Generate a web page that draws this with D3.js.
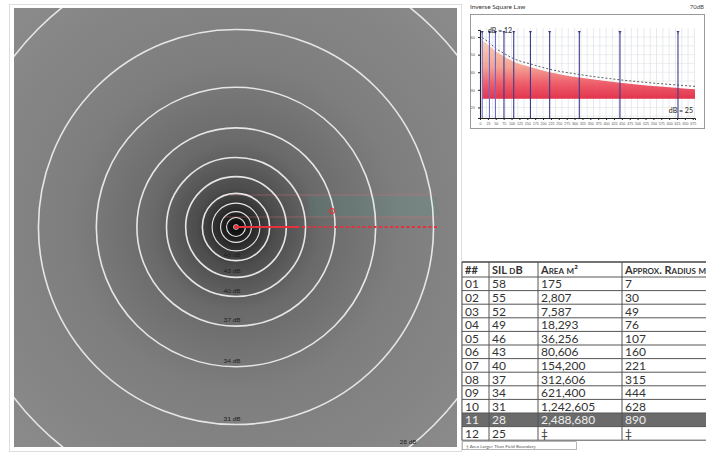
<!DOCTYPE html>
<html>
<head>
<meta charset="utf-8">
<script src="https://cdn.jsdelivr.net/npm/d3@7"></script>
<style>
  body { margin: 0; background: #fff; }
  svg { display: block; font-family: "Lato", "DejaVu Sans", sans-serif; }
</style>
</head>
<body>
<div id="chart"></div>
<script>
// table rows
const rowIds = ["01", "02", "03", "04", "05", "06", "07", "08", "09", "10", "11", "12"];
const silDb = [58, 55, 52, 49, 46, 43, 40, 37, 34, 31, 28, 25];
const areaM2 = ["175", "2,807", "7,587", "18,293", "36,256", "80,606", "154,200", "312,606", "621,400", "1,242,605", "2,488,680", "‡"];
const radiusM = [7, 30, 49, 76, 107, 160, 221, 315, 444, 628, 890, null];
const radiusText = ["7", "30", "49", "76", "107", "160", "221", "315", "444", "628", "890", "‡"];
const headers = ["##", "SIL dB", "Area m²", "Approx. Radius m"];
const highlightRow = "11";
const footnote = "‡ Area Larger Than Field Boundary";
const baseDb = 25;

const W = 706, H = 455;
const svg = d3.select("#chart").append("svg").attr("width", W).attr("height", H);
const defs = svg.append("defs");

// ---------- left panel: contour map ----------
const map = { x: 14, y: 8, w: 443, h: 439, cx: 236, cy: 227 };
const r = d3.scaleLinear().domain([0, 890]).range([0, 280]);

const grad = defs.append("radialGradient").attr("id", "glow")
  .attr("gradientUnits", "userSpaceOnUse")
  .attr("cx", map.cx).attr("cy", map.cy).attr("r", 300);
[[0, "#050505"], [0.05, "#262626"], [0.13, "#4c4c4c"], [0.28, "#6a6a6a"], [0.55, "#7e7e7e"], [1, "#8a8a8a"]]
  .forEach(s => grad.append("stop").attr("offset", s[0]).attr("stop-color", s[1]));

defs.append("clipPath").attr("id", "mapClip").append("rect")
  .attr("x", map.x).attr("y", map.y).attr("width", map.w).attr("height", map.h);

svg.append("rect").attr("x", 9.5).attr("y", 4.5).attr("width", 452).attr("height", 447)
  .attr("fill", "none").attr("stroke", "#ddd");
svg.append("rect").attr("x", map.x).attr("y", map.y).attr("width", map.w).attr("height", map.h)
  .attr("fill", "url(#glow)");

const g = svg.append("g").attr("clip-path", "url(#mapClip)");
const rings = rowIds.map((id, i) => ({ id, db: silDb[i], rad: radiusM[i] })).filter(d => d.rad != null);

// highlight band + radius line
g.append("rect").attr("x", map.cx + r(230)).attr("y", 195).attr("width", 437 - map.cx - r(230)).attr("height", 22)
  .attr("fill", "#3aa58a").attr("opacity", 0.14);
g.append("line").attr("x1", map.cx - r(40)).attr("x2", 437).attr("y1", 195).attr("y2", 195)
  .attr("stroke", "#e56a7a").attr("opacity", 0.4);
g.append("line").attr("x1", map.cx - r(40)).attr("x2", 437).attr("y1", 217).attr("y2", 217)
  .attr("stroke", "#e56a7a").attr("opacity", 0.4);

g.selectAll("circle.ring").data(rings).join("circle").attr("class", "ring")
  .attr("cx", map.cx).attr("cy", map.cy).attr("r", d => r(d.rad))
  .attr("fill", "none").attr("stroke", "#e6e6e6")
  .attr("stroke-width", d => d.rad > 100 ? 1.6 : 1.1);

g.append("line").attr("x1", map.cx).attr("x2", 437).attr("y1", map.cy).attr("y2", map.cy)
  .attr("stroke", "#e8303a").attr("stroke-width", 1.8).attr("stroke-dasharray", "3,2.5");
g.append("line").attr("x1", map.cx).attr("x2", map.cx + r(200)).attr("y1", map.cy).attr("y2", map.cy)
  .attr("stroke", "#e8303a").attr("stroke-width", 1.8);
g.append("circle").attr("cx", map.cx).attr("cy", map.cy).attr("r", 2.2).attr("fill", "#e8303a");
g.append("circle").attr("cx", map.cx + r(305)).attr("cy", 211).attr("r", 2.5)
  .attr("fill", "none").attr("stroke", "#e8303a").attr("stroke-width", 1.2);

// dB labels just inside each ring
g.selectAll("text.lab").data(rings.filter(d => d.rad >= 100 && d.rad < 800)).join("text").attr("class", "lab")
  .attr("x", map.cx - 4).attr("y", d => map.cy + r(d.rad) - 4)
  .attr("text-anchor", "middle").attr("font-size", 6.5).attr("fill", "#222")
  .text(d => d.db + " dB");
const outer = rings[rings.length - 1];
g.append("text").attr("x", 408).attr("y", 444).attr("text-anchor", "middle")
  .attr("font-size", 6.5).attr("fill", "#222").text(outer.db + " dB");

// ---------- top right: inverse square law plot ----------
const ins = { x: 470.5, y: 14.5, w: 234, h: 114 };
svg.append("text").attr("x", 470).attr("y", 9).attr("font-size", 6.5).attr("fill", "#333").text("Inverse Square Law");
svg.append("text").attr("x", 704).attr("y", 9).attr("font-size", 6).attr("fill", "#444")
  .attr("text-anchor", "end").text("70dB");
svg.append("rect").attr("x", ins.x).attr("y", ins.y).attr("width", ins.w).attr("height", ins.h)
  .attr("fill", "#fff").attr("stroke", "#999");

const x = d3.scaleLinear().domain([0, 682]).range([480, 695]);
const y = d3.scaleLinear().domain([14, 64]).range([118, 30]);

defs.append("clipPath").attr("id", "plotClip").append("rect")
  .attr("x", 480).attr("y", 28).attr("width", 215).attr("height", 90);
const p = svg.append("g");

p.append("g").selectAll("line").data(d3.range(0, 682, 20)).join("line")
  .attr("x1", d => x(d)).attr("x2", d => x(d)).attr("y1", 28).attr("y2", 118)
  .attr("stroke", "#d8d8e8").attr("stroke-width", 0.6);
p.append("g").selectAll("line").data(d3.range(15, 65, 5)).join("line")
  .attr("x1", 480).attr("x2", 695).attr("y1", d => y(d)).attr("y2", d => y(d))
  .attr("stroke", "#dde8dd").attr("stroke-width", 0.6);

const pts = rings.map(d => [d.rad, d.db]);
const areaGrad = defs.append("linearGradient").attr("id", "redFill")
  .attr("gradientUnits", "userSpaceOnUse").attr("x1", 0).attr("x2", 0).attr("y1", y(58)).attr("y2", y(baseDb));
[[0, "#f7cdb0"], [0.45, "#f39a8a"], [0.75, "#ec4a5a"], [1, "#e01f3a"]]
  .forEach(s => areaGrad.append("stop").attr("offset", s[0]).attr("stop-color", s[1]));

const pc = p.append("g").attr("clip-path", "url(#plotClip)");
pc.append("path").datum(pts)
  .attr("d", d3.area().x(d => x(d[0])).y0(y(baseDb)).y1(d => y(d[1])).curve(d3.curveMonotoneX))
  .attr("fill", "url(#redFill)").attr("opacity", 0.9);
pc.append("path").datum(pts)
  .attr("d", d3.line().x(d => x(d[0])).y(d => y(d[1]) - 3).curve(d3.curveMonotoneX))
  .attr("fill", "none").attr("stroke", "#333").attr("stroke-width", 0.8).attr("stroke-dasharray", "2,2");

// radius markers
pc.selectAll("line.rad").data(rings.filter(d => d.rad < 682)).join("line").attr("class", "rad")
  .attr("x1", d => x(d.rad)).attr("x2", d => x(d.rad)).attr("y1", 33).attr("y2", 118)
  .attr("stroke", (d, i) => i < 3 ? "#6a6ad0" : "#3c3c8a").attr("stroke-width", 1.1);
pc.selectAll("path.tip").data(rings.filter(d => d.rad < 682)).join("path").attr("class", "tip")
  .attr("d", d => `M${x(d.rad) - 1.5},31L${x(d.rad) + 1.5},31L${x(d.rad)},34Z`).attr("fill", "#3c3c8a");

p.append("g").attr("transform", "translate(0,118)")
  .call(d3.axisBottom(x).tickValues(d3.range(0, 682, 25)).tickSize(2).tickFormat(d3.format("d")))
  .call(a => a.selectAll("text").attr("font-size", 3.6).attr("fill", "#555").attr("dy", "0.5em"))
  .call(a => a.selectAll("line, path").attr("stroke", "#222"));
p.append("g").attr("transform", "translate(480,0)")
  .call(d3.axisLeft(y).ticks(5).tickSize(2))
  .call(a => a.selectAll("text").attr("font-size", 4).attr("fill", "#555"))
  .call(a => a.selectAll("line, path").attr("stroke", "#222"));

p.append("text").attr("x", 488).attr("y", 33).attr("font-size", 7).attr("fill", "#222").text("dB = 12");
p.append("text").attr("x", 693).attr("y", 113).attr("font-size", 7).attr("fill", "#222")
  .attr("text-anchor", "end").text("dB = " + baseDb);

// ---------- bottom right: table ----------
const t = { x: 462, top: 262, head: 15, rowH: 13.6 };
const colX = [462, 489, 538, 622, 706];
const tb = svg.append("g");
const rowY = i => t.top + t.head + i * t.rowH;
const tableBottom = rowY(rowIds.length);

tb.append("rect").attr("x", colX[0]).attr("y", rowY(rowIds.indexOf(highlightRow)))
  .attr("width", W - colX[0]).attr("height", t.rowH).attr("fill", "#6b6b6b");

tb.selectAll("line.h").data(d3.range(rowIds.length + 1)).join("line").attr("class", "h")
  .attr("x1", colX[0]).attr("x2", W).attr("y1", d => rowY(d)).attr("y2", d => rowY(d))
  .attr("stroke", "#555").attr("stroke-width", 1);
tb.append("line").attr("x1", colX[0]).attr("x2", W).attr("y1", t.top).attr("y2", t.top)
  .attr("stroke", "#444").attr("stroke-width", 1.4);
tb.selectAll("line.v").data(colX.slice(0, 4)).join("line").attr("class", "v")
  .attr("x1", d => d).attr("x2", d => d).attr("y1", t.top).attr("y2", tableBottom)
  .attr("stroke", "#555");

tb.selectAll("text.hd").data(headers).join("text").attr("class", "hd")
  .attr("x", (d, i) => colX[i] + 3).attr("y", t.top + 11.5)
  .attr("font-size", 11).attr("font-weight", 700).attr("fill", "#333")
  .style("font-variant", "small-caps").text(d => d);

const cols = [rowIds, silDb, areaM2, radiusText];
cols.forEach((col, c) => {
  tb.selectAll("text.c" + c).data(col).join("text").attr("class", "c" + c)
    .attr("x", colX[c] + 3).attr("y", (d, i) => rowY(i) + 11.3)
    .attr("font-size", 12).attr("fill", (d, i) => rowIds[i] === highlightRow ? "#eee" : "#333")
    .text(d => d);
});

tb.append("rect").attr("x", colX[0] + 0.5).attr("y", tableBottom + 1.5).attr("width", 114).attr("height", 8)
  .attr("fill", "#fff").attr("stroke", "#888").attr("stroke-width", 0.6);
tb.append("text").attr("x", colX[0] + 4).attr("y", tableBottom + 7.4).attr("font-size", 4.6)
  .attr("fill", "#555").text(footnote);
</script>
</body>
</html>
